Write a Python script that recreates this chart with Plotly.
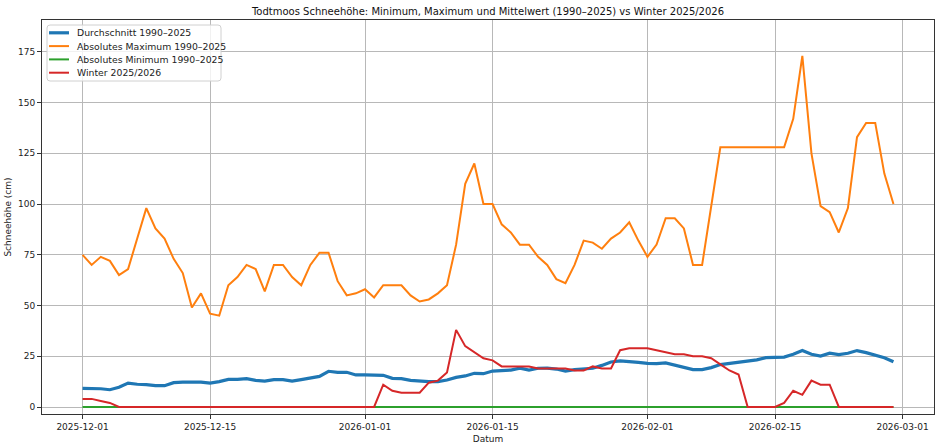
import pandas as pd
import plotly.graph_objects as go

start_date = "2025-12-01"
n_days = 90
dates = pd.date_range(start_date, periods=n_days, freq="D")

mean_vals = [9.2, 9.2, 9.0, 8.5, 9.7, 11.8, 11.2, 11.0, 10.5, 10.5,
             12.0, 12.3, 12.3, 12.3, 11.8, 12.5, 13.6, 13.6, 14.0, 13.1,
             12.8, 13.5, 13.5, 12.8, 13.5, 14.1, 15.1, 17.6, 17.1, 17.1,
             15.8, 15.8, 15.6, 15.6, 14.1, 14.0, 13.1, 12.7, 12.5, 12.5,
             13.3, 14.6, 15.3, 16.6, 16.4, 17.7, 17.9, 18.2, 19.1, 18.2,
             19.1, 19.2, 18.7, 17.7, 18.4, 18.6, 19.1, 20.5, 22.2, 22.7,
             22.5, 22.0, 21.5, 21.4, 21.7, 20.5, 19.2, 18.4, 18.4, 19.4,
             20.9, 21.4, 22.2, 22.5, 23.2, 24.3, 24.6, 24.6, 26.0, 27.8,
             26.0, 25.1, 26.5, 25.8, 26.5, 27.8, 26.8, 25.6, 24.3, 22.3]

max_vals = [75, 70, 74, 72, 65, 68, 83, 98, 88, 83,
            73, 66, 49, 56, 46, 45, 60, 64, 70, 68,
            57, 70, 70, 64, 60, 70, 76, 76, 62, 55,
            56, 58, 54, 60, 60, 60, 55, 52, 53, 56,
            60, 80, 110, 120, 100, 100, 90, 86, 80, 80,
            74, 70, 63, 61, 70, 82, 81, 78, 83, 86,
            91, 82, 74, 80, 93, 93, 88, 70, 70, 98,
            128, 128, 128, 128, 128, 128, 128, 128, 142, 173,
            125, 99, 96, 86, 98, 133, 140, 140, 115, 100]

min_vals = [0] * n_days

winter_vals = [4, 4, 3, 2, 0, 0, 0, 0, 0, 0,
               0, 0, 0, 0, 0, 0, 0, 0, 0, 0,
               0, 0, 0, 0, 0, 0, 0, 0, 0, 0,
               0, 0, 0, 11, 8, 7, 7, 7, 12, 13,
               17, 38, 30, 27, 24, 23, 20, 20, 20, 20,
               19, 19, 19, 19, 18, 18, 20, 19, 19, 28,
               29, 29, 29, 28, 27, 26, 26, 25, 25, 24,
               21, 18, 16, 0, 0, 0, 0, 2, 8, 6,
               13, 11, 11, 0, 0, 0, 0, 0, 0, 0]

series_names = ["Durchschnitt 1990–2025", "Absolutes Maximum 1990–2025",
                "Absolutes Minimum 1990–2025", "Winter 2025/2026"]
series_colors = ["#1f77b4", "#ff7f0e", "#2ca02c", "#d62728"]
series_widths = [3.2, 2, 2, 2]

tick_dates = ["2025-12-01", "2025-12-15", "2026-01-01", "2026-01-15",
              "2026-02-01", "2026-02-15", "2026-03-01"]
y_ticks = [0, 25, 50, 75, 100, 125, 150, 175]

title_text = "Todtmoos Schneehöhe: Minimum, Maximum und Mittelwert (1990–2025) vs Winter 2025/2026"
font_family = "DejaVu Sans"

# layout geometry (pixels)
W, H = 940, 448
ML, MR, MT, MB = 42, 6, 20, 34
PW, PH = W - ML - MR, H - MT - MB


def px_x(px):
    return (px - ML) / PW


def px_y(py):
    return (H - MB - py) / PH


fig = go.Figure()
for vals, name, color, width in zip([mean_vals, max_vals, min_vals, winter_vals],
                                    series_names, series_colors, series_widths):
    fig.add_trace(go.Scatter(x=dates, y=vals, mode="lines", name=name,
                             line=dict(color=color, width=width), showlegend=False))

x0 = pd.Timestamp(start_date) - pd.Timedelta(hours=4.45 * 24)
x1 = pd.Timestamp(start_date) + pd.Timedelta(hours=93.45 * 24)

axis_common = dict(
    showgrid=True, gridcolor="#b8b8b8", gridwidth=1,
    showline=True, linecolor="#333333", linewidth=1, mirror=True,
    ticks="outside", ticklen=4, tickcolor="#333333",
    tickfont=dict(family=font_family, size=9, color="#222222"),
    zeroline=False,
)

# custom compact legend (matplotlib style)
shapes = []
annotations = []
box_l, box_r, box_t, box_b = 47, 221, 25, 81
r = 3
path = (f"M {px_x(box_l + r)},{px_y(box_t)} L {px_x(box_r - r)},{px_y(box_t)} "
        f"Q {px_x(box_r)},{px_y(box_t)} {px_x(box_r)},{px_y(box_t + r)} "
        f"L {px_x(box_r)},{px_y(box_b - r)} "
        f"Q {px_x(box_r)},{px_y(box_b)} {px_x(box_r - r)},{px_y(box_b)} "
        f"L {px_x(box_l + r)},{px_y(box_b)} "
        f"Q {px_x(box_l)},{px_y(box_b)} {px_x(box_l)},{px_y(box_b - r)} "
        f"L {px_x(box_l)},{px_y(box_t + r)} "
        f"Q {px_x(box_l)},{px_y(box_t)} {px_x(box_l + r)},{px_y(box_t)} Z")
shapes.append(dict(type="path", xref="paper", yref="paper", path=path,
                   fillcolor="rgba(255,255,255,0.8)", line=dict(color="#d0d0d0", width=1),
                   layer="above"))
row_y0, row_step = 32.8, 13.3
for i, (name, color, width) in enumerate(zip(series_names, series_colors, series_widths)):
    yy = row_y0 + i * row_step
    shapes.append(dict(type="line", xref="paper", yref="paper",
                       x0=px_x(49), x1=px_x(69), y0=px_y(yy), y1=px_y(yy),
                       line=dict(color=color, width=width), layer="above"))
    annotations.append(dict(xref="paper", yref="paper", x=px_x(74.5), y=px_y(yy),
                            xanchor="left", yanchor="middle", showarrow=False,
                            text=name, font=dict(family=font_family, size=9.3, color="#222222")))

fig.update_layout(
    width=W, height=H,
    margin=dict(l=ML, r=MR, t=MT, b=MB),
    paper_bgcolor="white", plot_bgcolor="white",
    font=dict(family=font_family, size=9, color="#222222"),
    title=dict(text=title_text, x=0.5, xref="paper", xanchor="center",
               y=1 - 11.5 / H, yref="container", yanchor="middle",
               font=dict(family=font_family, size=10, color="#111111")),
    xaxis=dict(range=[x0, x1], tickvals=[pd.Timestamp(d) for d in tick_dates],
               ticktext=tick_dates,
               title=dict(text="Datum", standoff=4,
                          font=dict(family=font_family, size=9)),
               **axis_common),
    yaxis=dict(range=[-3.45, 190.7], tickvals=y_ticks,
               title=dict(text="Schneehöhe (cm)", standoff=4,
                          font=dict(family=font_family, size=9)),
               **axis_common),
    shapes=shapes,
    annotations=annotations,
    showlegend=False,
)

fig.write_html("out.html")
